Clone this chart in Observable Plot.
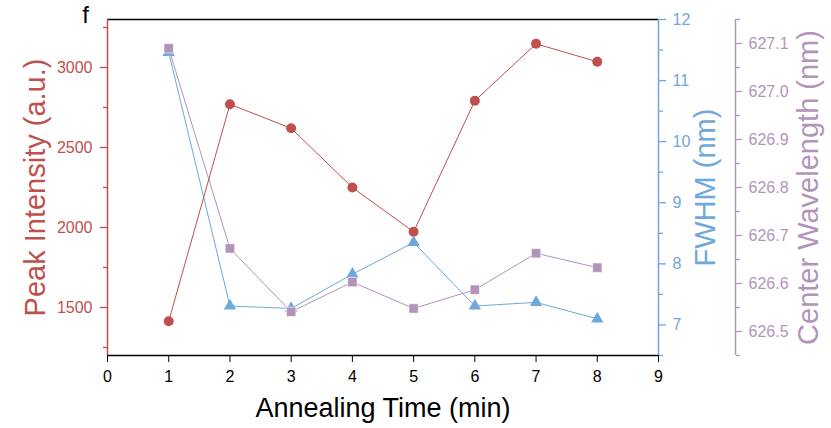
<!DOCTYPE html>
<html><head><meta charset="utf-8">
<script src="https://cdn.jsdelivr.net/npm/d3@7"></script>
<script src="https://cdn.jsdelivr.net/npm/@observablehq/plot@0.6"></script>
<style>
body{margin:0;background:#fff;}
#chart{width:831px;height:428px;}
</style></head><body><div id="chart"></div>
<script>
// ---- data ----
const annealingTime = [1, 2, 3, 4, 5, 6, 7, 8];
const peakIntensity = [1414, 2770, 2620, 2250, 1973, 2792, 3148, 3036];
const fwhm = [11.46, 7.31, 7.27, 7.83, 8.35, 7.31, 7.37, 7.10];
const centerWavelength = [627.09, 626.673, 626.541, 626.603, 626.548, 626.587, 626.663, 626.633];

const xTicks = [0, 1, 2, 3, 4, 5, 6, 7, 8, 9];
const intensityTicks = [1500, 2000, 2500, 3000];
const intensityMinor = [1250, 1750, 2250, 2750, 3250];
const fwhmTicks = [7, 8, 9, 10, 11, 12];
const fwhmMinor = [6.5, 7.5, 8.5, 9.5, 10.5, 11.5];
const wlTicks = [626.5, 626.6, 626.7, 626.8, 626.9, 627.0, 627.1];
const wlMinor = [626.45, 626.55, 626.65, 626.75, 626.85, 626.95, 627.05, 627.15];

const yDomain = [1200, 3300];
const fwhmDomain = [6.5, 12];
const wlDomain = [626.45, 627.15];

const RED = "#c0504d", BLUE = "#6fa8dc", PURPLE = "#b294bb";
const FONT = "'Liberation Sans', Arial, sans-serif";

// map secondary series onto primary y units
const toFwhm = d3.scaleLinear(fwhmDomain, yDomain);
const toWl = d3.scaleLinear(wlDomain, yDomain);

const redData = annealingTime.map((t, i) => ({t, v: peakIntensity[i]}));
const blueData = annealingTime.map((t, i) => ({t, v: toFwhm(fwhm[i])}));
const purpleData = annealingTime.map((t, i) => ({t, v: toWl(centerWavelength[i])}));

const WL_OFFSET = 77;

const plot = Plot.plot({
  width: 831, height: 428,
  marginLeft: 107, marginRight: 173, marginTop: 19, marginBottom: 73,
  style: {fontFamily: FONT, background: "white", overflow: "visible"},
  x: {domain: [0, 9], label: null},
  y: {domain: yDomain, label: null},
  marks: [
    // x axis
    Plot.axisX(xTicks, {tickSize: 7, tickPadding: 8, fontSize: 16, color: "black", label: null}),
    // left axis (intensity)
    Plot.axisY(intensityTicks, {anchor: "left", tickSize: 7, tickPadding: 8, fontSize: 16, color: RED, strokeWidth: 1.3,
      tickFormat: d => String(d), label: null}),
    Plot.axisY(intensityMinor, {anchor: "left", tickSize: 4, tickFormat: () => "", color: RED, strokeWidth: 1.3, label: null}),
    // right axis (FWHM)
    Plot.axisY(fwhmTicks.map(toFwhm), {anchor: "right", tickSize: 7, tickPadding: 7, fontSize: 16, color: BLUE, strokeWidth: 1.3,
      tickFormat: d => String(Math.round(toFwhm.invert(d))), label: null}),
    Plot.axisY(fwhmMinor.map(toFwhm), {anchor: "right", tickSize: 4, tickFormat: () => "", color: BLUE, strokeWidth: 1.3, label: null}),
    // far-right axis (center wavelength)
    Plot.axisY(wlTicks.map(toWl), {anchor: "right", dx: WL_OFFSET, tickSize: 6, tickPadding: 7, fontSize: 16, color: PURPLE, strokeWidth: 1.3,
      tickFormat: d => toWl.invert(d).toFixed(1), label: null}),
    Plot.axisY(wlMinor.map(toWl), {anchor: "right", dx: WL_OFFSET, tickSize: 4, tickFormat: () => "", color: PURPLE, strokeWidth: 1.3, label: null}),
    // frame lines
    Plot.ruleY([yDomain[1]], {stroke: "black", strokeWidth: 1.5}),
    Plot.ruleY([yDomain[0]], {stroke: "black", strokeWidth: 1.5}),
    Plot.ruleX([0], {stroke: RED, strokeWidth: 1.5}),
    Plot.ruleX([9], {stroke: BLUE, strokeWidth: 1.5}),
    Plot.ruleX([9], {stroke: PURPLE, strokeWidth: 1.5, dx: WL_OFFSET}),
    // series
    Plot.line(blueData, {x: "t", y: "v", stroke: BLUE, strokeWidth: 1}),
    Plot.dot(blueData, {x: "t", y: "v", symbol: "triangle", r: 4.6, fill: BLUE, stroke: "none"}),
    Plot.line(purpleData, {x: "t", y: "v", stroke: PURPLE, strokeWidth: 1}),
    Plot.dot(purpleData, {x: "t", y: "v", symbol: "square", r: 5.3, fill: PURPLE, stroke: "white", strokeWidth: 0.6}),
    Plot.line(redData, {x: "t", y: "v", stroke: RED, strokeWidth: 1}),
    Plot.dot(redData, {x: "t", y: "v", symbol: "circle", r: 5, fill: RED, stroke: "none"}),
    // titles
    Plot.text(["Annealing Time (min)"], {frameAnchor: "bottom", textAnchor: "middle", lineAnchor: "middle", dy: 53, fontSize: 27, fill: "black"}),
    Plot.text(["Peak Intensity (a.u.)"], {frameAnchor: "left", textAnchor: "middle", lineAnchor: "middle", dx: -72, rotate: -90, fontSize: 29, fill: RED}),
    Plot.text(["FWHM (nm)"], {frameAnchor: "right", textAnchor: "middle", lineAnchor: "middle", dx: 47, rotate: -90, fontSize: 29, fill: BLUE}),
    Plot.text(["Center Wavelength (nm)"], {frameAnchor: "right", textAnchor: "middle", lineAnchor: "middle", dx: 150, rotate: -90, fontSize: 29, fill: PURPLE}),
    Plot.text(["f"], {frameAnchor: "top-left", textAnchor: "middle", lineAnchor: "middle", dx: -22, dy: -4, fontSize: 24, fill: "black"})
  ]
});
document.getElementById("chart").appendChild(plot);
</script>
</body></html>
